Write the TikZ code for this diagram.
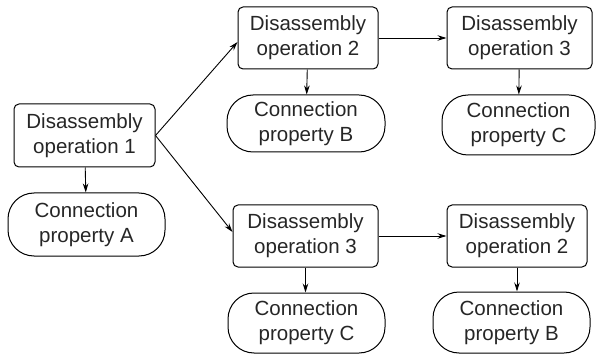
\documentclass[tikz,border=0pt]{standalone}
\usepackage{fontspec}
\setmainfont{Liberation Sans}
\usetikzlibrary{arrows.meta}
\begin{document}
\begin{tikzpicture}[x=1pt,y=-1pt,
  every node/.style={font=\fontsize{20.5}{25}\selectfont, align=center, inner sep=0pt, line width=1pt, text=black!85},
  opbox/.style={draw, rounded corners=5pt},
  propbox/.style={draw, rounded corners=26pt},
  conn/.style={line width=0.9pt, -{Stealth[length=9pt,width=5.5pt]}}]
\useasboundingbox (0,0) rectangle (596,355);
\node[opbox, minimum width=141pt, minimum height=63pt] (op1) at (84.5,135.5) {Disassembly\\operation 1};
\node[propbox, minimum width=157pt, minimum height=63pt] (pa) at (86.5,224.5) {Connection\\property A};
\node[opbox, minimum width=140pt, minimum height=62pt] (op2t) at (308,38) {Disassembly\\operation 2};
\node[propbox, minimum width=158pt, minimum height=57pt] (pbt) at (306,123.5) {Connection\\property B};
\node[opbox, minimum width=145pt, minimum height=62pt] (op3t) at (519.5,38) {Disassembly\\operation 3};
\node[propbox, minimum width=153pt, minimum height=60pt] (pct) at (518.5,125) {Connection\\property C};
\node[opbox, minimum width=145pt, minimum height=62pt] (op3b) at (305.5,236) {Disassembly\\operation 3};
\node[propbox, minimum width=157pt, minimum height=60pt] (pcb) at (306.5,323) {Connection\\property C};
\node[opbox, minimum width=140pt, minimum height=62pt] (op2b) at (517,236) {Disassembly\\operation 2};
\node[propbox, minimum width=157pt, minimum height=61pt] (pbb) at (511.5,322.5) {Connection\\property B};
\draw[conn] (op1) -- (pa);
\draw[conn] (op1.east) -- ([yshift=-4pt]op2t.west);
\draw[conn] (op1.east) -- ([yshift=4pt]op3b.west);
\draw[conn] (op2t) -- (pbt);
\draw[conn] (op3t) -- (pct);
\draw[conn] (op2t) -- (op3t);
\draw[conn] (op3b) -- (op2b);
\draw[conn] (op3b.south) -- (op3b.south |- pcb.north);
\draw[conn] (op2b.south) -- (op2b.south |- pbb.north);
\end{tikzpicture}
\end{document}
